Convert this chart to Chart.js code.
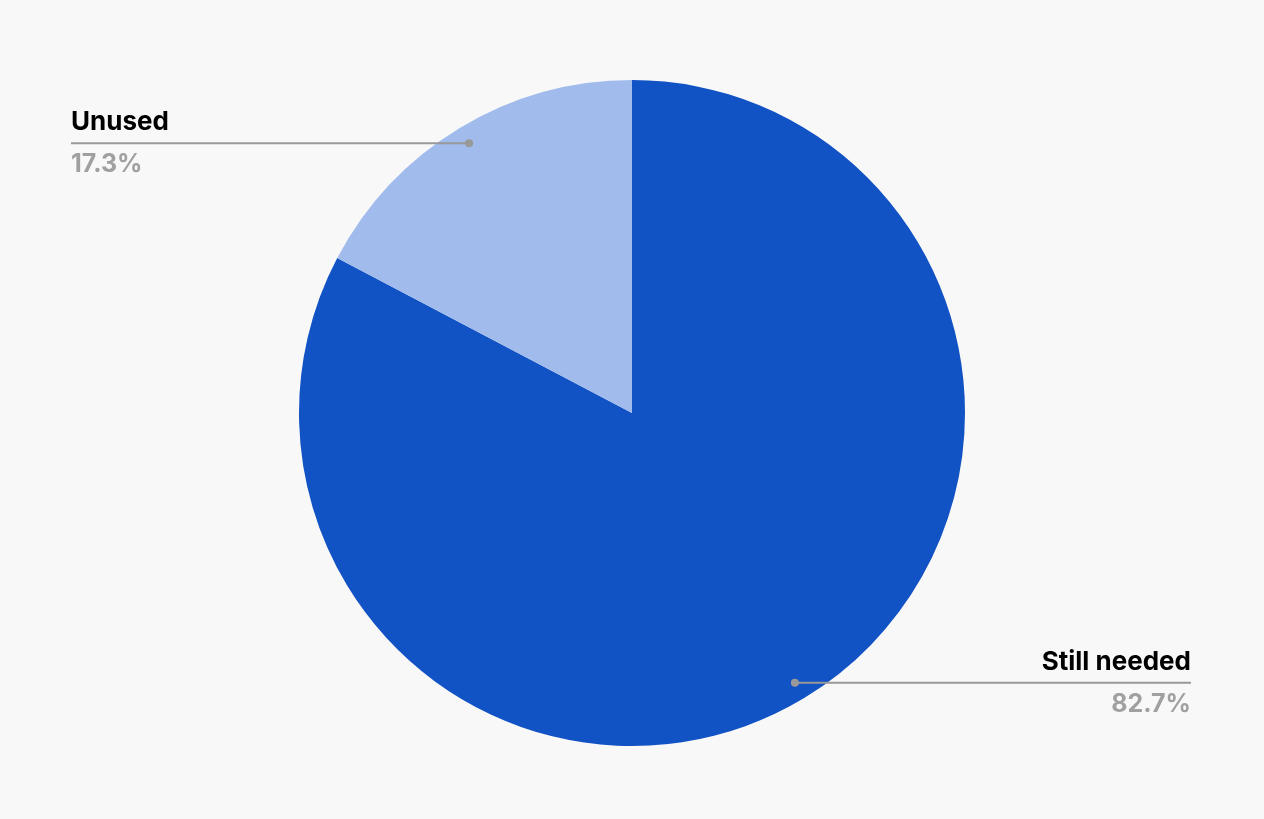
<!DOCTYPE html>
<html>
<head>
<meta charset="utf-8">
<script src="https://cdn.jsdelivr.net/npm/chart.js@4"></script>
<style>
  html, body { margin: 0; padding: 0; background: #f8f8f8; }
  #wrap { width: 1264px; height: 819px; }
</style>
</head>
<body>
<div id="wrap"><canvas id="chart"></canvas></div>
<script>
// dados do gráfico
const labels = ['Still needed', 'Unused'];
const values = [82.7, 17.3];
const colors = ['#1152c4', '#a1bcec'];

// rótulos com linha guia
const leaderLabels = {
  id: 'leaderLabels',
  afterDatasetsDraw(chart) {
    const ctx = chart.ctx;
    const arcs = chart.getDatasetMeta(0).data;
    arcs.forEach((arc, i) => {
      const mid = (arc.startAngle + arc.endAngle) / 2;
      const r = arc.outerRadius * 0.946;
      const px = arc.x + Math.cos(mid) * r;
      const py = arc.y + Math.sin(mid) * r;
      const left = px < arc.x;
      const tx = left ? 71 : chart.width - 73;

      ctx.save();
      ctx.strokeStyle = '#999999';
      ctx.lineWidth = 2;
      ctx.beginPath();
      ctx.moveTo(px, py);
      ctx.lineTo(tx, py);
      ctx.stroke();
      ctx.fillStyle = '#999999';
      ctx.beginPath();
      ctx.arc(px, py, 4, 0, Math.PI * 2);
      ctx.fill();

      ctx.textAlign = left ? 'left' : 'right';
      ctx.textBaseline = 'alphabetic';
      ctx.fillStyle = '#000000';
      ctx.font = 'bold 26px Inter, Roboto, sans-serif';
      ctx.fillText(labels[i], tx, py - 13);
      ctx.fillStyle = '#a0a0a0';
      ctx.font = 'bold 25px Inter, Roboto, sans-serif';
      ctx.fillText(values[i].toFixed(1) + '%', tx, py + 29);
      ctx.restore();
    });
  }
};

new Chart(document.getElementById('chart'), {
  type: 'pie',
  data: {
    labels: labels,
    datasets: [{
      data: values,
      backgroundColor: colors,
      borderWidth: 0
    }]
  },
  options: {
    responsive: true,
    maintainAspectRatio: false,
    animation: false,
    layout: { padding: { top: 80, bottom: 73 } },
    plugins: {
      legend: { display: false },
      tooltip: { enabled: false }
    }
  },
  plugins: [leaderLabels]
});
</script>
</body>
</html>
